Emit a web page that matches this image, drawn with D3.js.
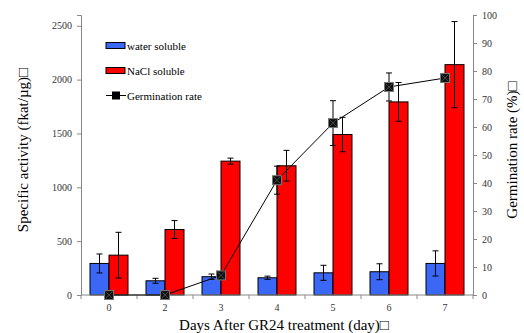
<!DOCTYPE html>
<html>
<head>
<meta charset="utf-8">
<script src="https://cdn.jsdelivr.net/npm/d3@7"></script>
<style>
  body { margin: 0; background: #fff; }
  svg { display: block; }
  svg text { font-family: "Liberation Serif", "Times New Roman", serif; }
</style>
</head>
<body>
<svg id="chart" width="524" height="333"></svg>
<script>
// data
var days = ["0", "2", "3", "4", "5", "6", "7"];
var water = [293, 132, 170, 160, 206, 216, 293];
var waterErr = [88, 23, 25, 15, 70, 74, 117];
var nacl = [370, 608, 1243, 1200, 1490, 1793, 2139];
var naclErr = [212, 83, 28, 143, 160, 180, 400];
var germ = [0, 0, 7, 41, 61.4, 74.3, 77.5];
var germErr = [0, 0, 1, 5, 8, 5, 1.5];
var leftTicks = [0, 500, 1000, 1500, 2000, 2500];
var rightTicks = [0, 10, 20, 30, 40, 50, 60, 70, 80, 90, 100];

var serif = "'Liberation Serif', 'Times New Roman', serif";
var svg = d3.select("#chart");
var margin = {top: 15, right: 51, bottom: 38, left: 81},
  width = +svg.attr("width") - margin.left - margin.right,
  height = +svg.attr("height") - margin.top - margin.bottom;

var g = svg.append("g")
  .attr("transform", "translate(" + margin.left + "," + margin.top + ")");

var x = d3.scaleBand().domain(days).range([0, width]);
var yL = d3.scaleLinear().domain([0, 2600]).range([height, 0]);
var yR = d3.scaleLinear().domain([0, 100]).range([height, 0]);
var barW = 19;
var cx = function(i) { return x(days[i]) + x.bandwidth() / 2; };

// bars
var series = [
  {vals: water, errs: waterErr, color: "#3a67f5", off: -barW},
  {vals: nacl, errs: naclErr, color: "#ff0000", off: 0}
];
series.forEach(function(s) {
  g.append("g").selectAll("rect")
    .data(s.vals)
    .enter().append("rect")
    .attr("x", function(d, i) { return cx(i) + s.off; })
    .attr("y", function(d) { return yL(d); })
    .attr("width", barW)
    .attr("height", function(d) { return yL(0) - yL(d); })
    .attr("fill", s.color)
    .attr("stroke", "#000")
    .attr("stroke-width", 1);
});

function errBar(sel, xc, yTop, yBot) {
  sel.append("line").attr("x1", xc).attr("x2", xc).attr("y1", yTop).attr("y2", yBot);
  sel.append("line").attr("x1", xc - 3).attr("x2", xc + 3).attr("y1", yTop).attr("y2", yTop);
  sel.append("line").attr("x1", xc - 3).attr("x2", xc + 3).attr("y1", yBot).attr("y2", yBot);
}

var eg = g.append("g").attr("stroke", "#000").attr("stroke-width", 1);
series.forEach(function(s) {
  s.vals.forEach(function(v, i) {
    var xc = cx(i) + s.off + barW / 2;
    errBar(eg, xc, yL(v + s.errs[i]), yL(Math.max(0, v - s.errs[i])));
  });
});

// axes
var axisColor = "#888";
var gl = g.append("g")
  .call(d3.axisLeft(yL).tickValues(leftTicks).tickFormat(d3.format("d")).tickSize(4).tickPadding(5));
var gr = g.append("g")
  .attr("transform", "translate(" + width + ",0)")
  .call(d3.axisRight(yR).tickValues(rightTicks).tickFormat(d3.format("d")).tickSize(4).tickPadding(5));
var gx = g.append("g")
  .attr("transform", "translate(0," + height + ")")
  .call(d3.axisBottom(x).tickSize(0).tickPadding(9));

// x ticks sit on band boundaries
gx.selectAll(".bound")
  .data(d3.range(days.length + 1))
  .enter().append("line")
  .attr("x1", function(i) { return i * x.step(); })
  .attr("x2", function(i) { return i * x.step(); })
  .attr("y1", 0).attr("y2", 4)
  .attr("stroke", axisColor);

[gl, gr, gx].forEach(function(a) {
  a.attr("font-family", serif).attr("font-size", 10);
  a.select(".domain").attr("stroke", axisColor);
  a.selectAll(".tick line").attr("stroke", axisColor);
  a.selectAll("text").attr("fill", "#333");
});
gx.select(".domain").attr("d", "M0,0H" + width);

// germination line
var line = d3.line()
  .x(function(d, i) { return cx(i); })
  .y(function(d) { return yR(d); });

g.append("path")
  .attr("d", line(germ))
  .attr("fill", "none")
  .attr("stroke", "#000")
  .attr("stroke-width", 1);

var ge = g.append("g").attr("stroke", "#000").attr("stroke-width", 1);
germ.forEach(function(v, i) {
  if (germErr[i] > 0) errBar(ge, cx(i), yR(v + germErr[i]), yR(v - germErr[i]));
});

function marker(sel, xc, yc) {
  sel.append("rect")
    .attr("x", xc - 4.5).attr("y", yc - 4.5)
    .attr("width", 9).attr("height", 9)
    .attr("fill", "#111").attr("stroke", "#777").attr("stroke-width", 1);
  sel.append("path")
    .attr("d", "M" + (xc - 3.5) + "," + (yc - 3.5) + "L" + (xc + 3.5) + "," + (yc + 3.5) +
      "M" + (xc + 3.5) + "," + (yc - 3.5) + "L" + (xc - 3.5) + "," + (yc + 3.5))
    .attr("stroke", "#444").attr("stroke-width", 1);
}
var mg = g.append("g");
germ.forEach(function(v, i) { marker(mg, cx(i), yR(v)); });

// legend
var lg = svg.append("g").attr("font-family", serif).attr("font-size", 11);
var legendItems = [
  {label: "water soluble", color: "#3a67f5", y: 45.5},
  {label: "NaCl soluble", color: "#ff0000", y: 70.5}
];
legendItems.forEach(function(it) {
  lg.append("rect")
    .attr("x", 106).attr("y", it.y - 3)
    .attr("width", 19).attr("height", 6)
    .attr("fill", it.color).attr("stroke", "#000").attr("stroke-width", 1);
  lg.append("text").attr("x", 127).attr("y", it.y + 4).text(it.label);
});
lg.append("line")
  .attr("x1", 106).attr("x2", 126).attr("y1", 95.5).attr("y2", 95.5)
  .attr("stroke", "#000");
lg.append("rect")
  .attr("x", 112).attr("y", 91.5).attr("width", 8).attr("height", 8)
  .attr("fill", "#000");
lg.append("text").attr("x", 127).attr("y", 99.5).text("Germination rate");

// axis titles
var titles = svg.append("g").attr("font-family", serif).attr("font-size", 15);
titles.append("text")
  .attr("transform", "translate(28,150) rotate(-90)")
  .attr("text-anchor", "middle")
  .text("Specific activity (fkat/\u00b5g)\u25a1");

titles.append("text")
  .attr("transform", "translate(517,150) rotate(-90)")
  .attr("text-anchor", "middle")
  .text("Germination rate (%)\u25a1");

titles.append("text")
  .attr("x", 284).attr("y", 330)
  .attr("text-anchor", "middle")
  .text("Days After GR24 treatment (day)\u25a1");
</script>
</body>
</html>
